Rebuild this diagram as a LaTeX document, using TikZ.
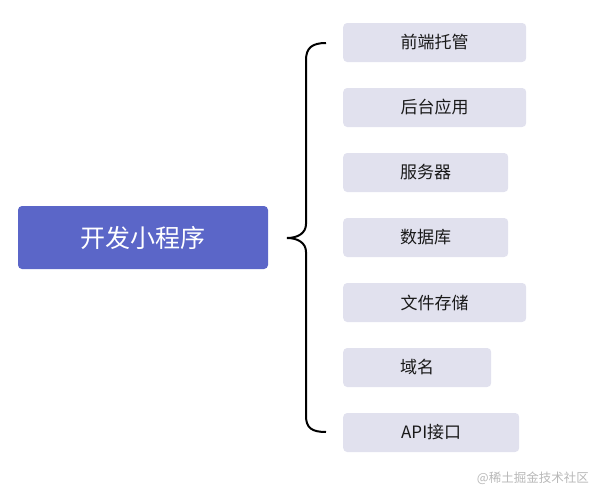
\documentclass[tikz,border=0pt]{standalone}
\usepackage{fontspec}
\setmainfont{Noto Sans CJK SC}
\usetikzlibrary{positioning}
\definecolor{mainblue}{HTML}{5B66C8}
\definecolor{itemgray}{HTML}{E1E1EE}
\definecolor{markgray}{HTML}{B8B8B8}

\begin{document}
\begin{tikzpicture}[x=1pt,y=-1pt,
		root/.style={fill=mainblue, rounded corners=4pt, text=white, font=\fontsize{25}{28}\selectfont, minimum width=250pt, minimum height=63pt, inner sep=0pt},
		item/.style={fill=itemgray, rounded corners=4pt, text=black!90, font=\fontsize{17}{20}\selectfont, minimum height=39pt, inner sep=0pt, anchor=west}]
	\useasboundingbox (0,0) rectangle (590,490);
	\node[root] (dev) at (143,237.5) {开发小程序};
	\node[item, minimum width=183pt] (front) at (343,42.5) {前端托管};
	\node[item, minimum width=183pt] (back) at (343,107.5) {后台应用};
	\node[item, minimum width=165pt] (server) at (343,172.5) {服务器};
	\node[item, minimum width=165pt] (db) at (343,237.5) {数据库};
	\node[item, minimum width=183pt] (files) at (343,302.5) {文件存储};
	\node[item, minimum width=148pt] (domain) at (343,367.5) {域名};
	\node[item, minimum width=176pt] (api) at (343,432.5) {API接口};
	% the brace
	\draw[line width=2pt] (326,43) .. controls (312,43) and (306,48) .. (306,60) -- (306,224) .. controls (306,233) and (298,238) .. (287,238) .. controls (298,238) and (306,243) .. (306,252) -- (306,416) .. controls (306,428) and (312,432) .. (326,432);
	\node[text=markgray, font=\fontsize{12.5}{14}\selectfont, anchor=east, inner sep=0pt] (mark) at (589,478) {@稀土掘金技术社区};
\end{tikzpicture}
\end{document}
